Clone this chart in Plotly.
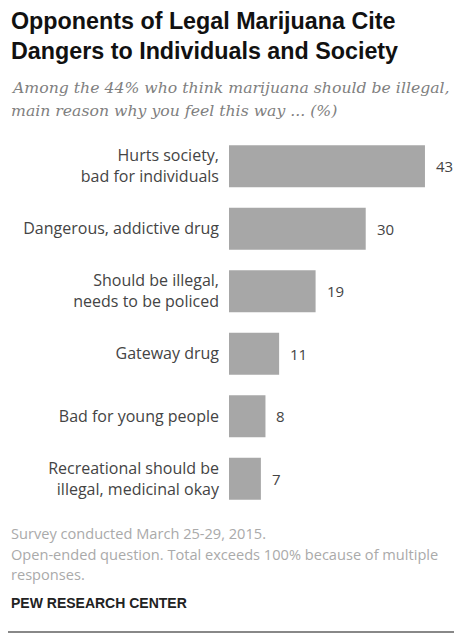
import plotly.graph_objects as go

categories = [
    "Hurts society,<br>bad for individuals",
    "Dangerous, addictive drug",
    "Should be illegal,<br>needs to be policed",
    "Gateway drug",
    "Bad for young people",
    "Recreational should be<br>illegal, medicinal okay",
]
values = [43, 30, 19, 11, 8, 7]

W, H = 454, 634
# plot area in pixels: x 229..440, y 135..510
ML = 229
MR = W - 440
MT = 135
MB = H - 510
PH = H - MT - MB
PW = W - ML - MR


def py(y):
    # pixel y (from top) -> paper y
    return (H - MB - y) / PH


def px(x):
    return (x - ML) / PW


fig = go.Figure()
fig.add_trace(go.Bar(
    x=values, y=categories, orientation="h",
    marker=dict(color="#a7a7a7", line=dict(width=0)),
    width=0.67, hoverinfo="skip",
))

for c, v in zip(categories, values):
    fig.add_annotation(x=v, y=c, xref="x", yref="y", text=str(v), showarrow=False,
                       xanchor="left", xshift=9,
                       font=dict(family="Open Sans", size=15, color="#444"))

fig.update_xaxes(range=[0, 46.3], visible=False, fixedrange=True, automargin=False)
fig.update_yaxes(autorange="reversed", showgrid=False, zeroline=False, showline=False,
                 ticks="", ticklabelstandoff=9, automargin=False,
                 tickfont=dict(family="Open Sans", size=16, color="#444"))

ann = []
ann.append(dict(x=px(9), y=py(21), text="<b>Opponents of Legal Marijuana Cite</b>",
                xanchor="left", yanchor="middle", align="left",
                font=dict(family="Liberation Sans", size=23.3, color="#111")))
ann.append(dict(x=px(9), y=py(51), text="<b>Dangers to Individuals and Society</b>",
                xanchor="left", yanchor="middle", align="left",
                font=dict(family="Liberation Sans", size=23.3, color="#111")))
ann.append(dict(x=px(9), y=py(87), text="<i>Among the 44% who think marijuana should be illegal,</i>",
                xanchor="left", yanchor="middle", align="left",
                font=dict(family="DejaVu Serif", size=15.7, color="#808080")))
ann.append(dict(x=px(9), y=py(110), text="<i>main reason why you feel this way ... (%)</i>",
                xanchor="left", yanchor="middle", align="left",
                font=dict(family="DejaVu Serif", size=15.7, color="#808080")))
foot = ["Survey conducted March 25-29, 2015.",
        "Open-ended question. Total exceeds 100% because of multiple",
        "responses."]
for t, yy in zip(foot, [533, 554, 574]):
    ann.append(dict(x=px(9), y=py(yy), text=t, xanchor="left", yanchor="middle", align="left",
                    font=dict(family="Open Sans", size=14.6, color="#aaaaaa")))
ann.append(dict(x=px(9), y=py(603), text="<b>PEW RESEARCH CENTER</b>",
                xanchor="left", yanchor="middle", align="left",
                font=dict(family="Liberation Sans", size=14, color="#222")))
for a in ann:
    a.update(xref="paper", yref="paper", showarrow=False)
    fig.add_annotation(**a)

fig.add_shape(type="line", xref="paper", yref="paper", x0=px(8), x1=px(454), y0=py(632), y1=py(632),
              line=dict(color="#888", width=2))

fig.update_layout(
    width=W, height=H,
    margin=dict(l=ML, r=MR, t=MT, b=MB),
    paper_bgcolor="white", plot_bgcolor="white",
    showlegend=False, bargap=0.33,
)

fig.write_html("out.html", config={"displayModeBar": False},
               post_script="document.body.style.margin='0';document.body.style.overflow='hidden';")
